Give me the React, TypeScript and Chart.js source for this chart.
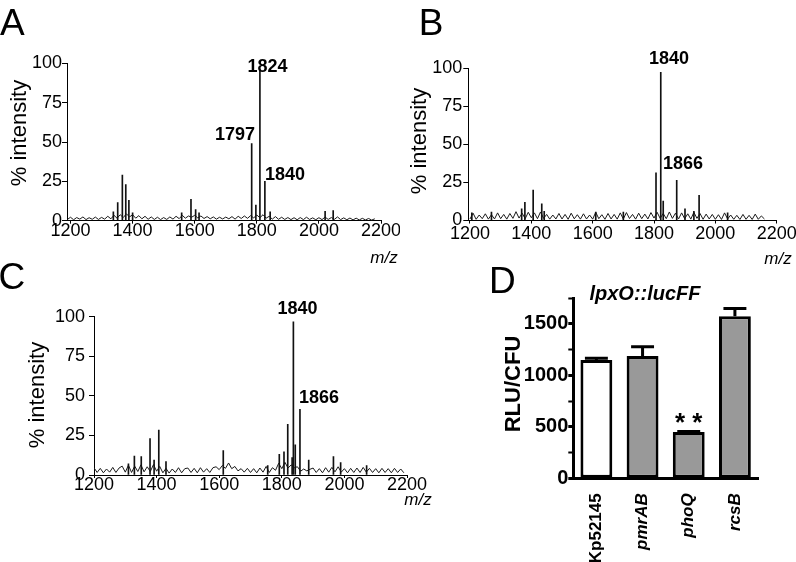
import React, { useEffect, useRef } from 'react';
import { Chart, registerables } from 'chart.js';

Chart.register(...registerables);

const FONT = '"Liberation Sans", Arial, Helvetica, sans-serif';

// ---------- shared x ticks (m/z) ----------
const MZ_TICKS = [1200, 1400, 1600, 1800, 2000, 2200];
const PCT_TICKS_STEP = 25;
const NOISE_STEP = 10;

// ---------- Panel A ----------
const A_NOISE_START = 1190;
const A_NOISE = [
  0.8, 2.2, 0.6, 2.0, 1.0, 2.4, 0.7, 1.9, 0.9, 2.3, 0.8,
  2.1, 1.0, 2.8, 1.2, 3.4, 1.6, 3.8, 2.0, 4.4, 2.4,
  3.8, 1.6, 3.2, 1.2, 2.8, 0.9, 2.4, 0.8, 2.2, 0.7,
  2.0, 0.8, 2.4, 1.0, 2.8, 1.3, 3.4, 1.6, 3.0, 2.2,
  3.4, 1.8, 3.0, 1.4, 2.6, 1.2, 2.4, 1.0, 2.2, 1.1,
  2.3, 1.2, 2.6, 1.0, 2.8, 1.4, 3.0, 1.5, 3.2, 1.8,
  3.6, 1.9, 3.8, 1.6, 2.8, 1.0, 2.6, 0.9, 2.2, 0.8,
  2.0, 0.7, 1.9, 0.6, 2.0, 0.7, 2.2, 0.8, 1.8, 0.6,
  1.9, 0.7, 2.3, 0.8, 2.0, 0.9, 2.4, 0.7, 1.8, 0.6,
  1.7, 0.5, 1.6, 0.5, 1.5, 0.5, 1.4, 0.4, 1.2,
];
const A_PEAK_MZ = [1338, 1352, 1367, 1378, 1388, 1400, 1558, 1588, 1603, 1614, 1783.5, 1797, 1810, 1826, 1843, 2020, 2046];
const A_PEAK_PCT = [5.7, 11.5, 29, 23, 13, 5, 5, 13.6, 7, 5, 49, 10, 95, 25, 5.7, 6, 6.4];
const A_PEAK_LABELS = ['1824', '1797', '1840'];

// ---------- Panel B ----------
const B_NOISE_START = 1200;
const B_NOISE = [
  1.0, 4.8, 0.8, 3.6, 1.2, 4.4, 0.9, 3.8, 1.0, 5.0,
  1.2, 4.0, 0.9, 4.6, 1.4, 5.8, 1.6, 4.8, 1.2, 5.4,
  1.8, 5.0, 1.2, 5.6, 1.4, 4.0, 0.9, 3.6, 1.0, 4.6,
  1.0, 4.0, 0.8, 4.8, 1.1, 3.8, 0.9, 4.4, 1.0, 3.6,
  0.9, 5.4, 1.2, 3.8, 0.8, 4.6, 1.0, 4.0, 0.9, 5.0,
  1.0, 5.2, 1.3, 4.0, 0.9, 4.8, 1.2, 4.2, 1.0, 5.2,
  1.6, 5.4, 1.4, 4.6, 1.2, 5.6, 1.4, 4.8, 1.0, 5.0,
  1.2, 4.4, 0.9, 5.4, 1.4, 4.6, 0.8, 4.2, 1.0, 4.0,
  0.8, 3.8, 0.7, 5.0, 1.0, 3.6, 0.8, 3.4, 0.7, 4.0,
  0.8, 3.4, 0.7, 4.2, 0.8, 3.0, 1.0,
];
const B_PEAK_MZ = [1206, 1270, 1368.5, 1379, 1406, 1434, 1442, 1610, 1700, 1806.5, 1822, 1830, 1874, 1901, 1930, 1947, 2040];
const B_PEAK_PCT = [5, 5.5, 7.7, 12, 20, 11, 6, 5.5, 5.5, 31.4, 97.4, 12.7, 26.4, 7.7, 6, 16.5, 5];
const B_PEAK_LABELS = ['1840', '1866'];

// ---------- Panel C ----------
const C_NOISE_START = 1200;
const C_NOISE = [
  4.6, 1.6, 4.2, 1.4, 3.8, 1.8, 4.8, 1.6, 4.4, 5.6,
  1.8, 6.2, 1.6, 5.6, 2.2, 6.4, 2.0, 5.2, 2.2, 6.6,
  2.4, 5.4, 1.4, 4.2, 1.2, 3.8, 1.6, 4.6, 1.4, 4.0,
  4.4, 1.6, 4.2, 1.4, 4.6, 1.8, 4.0, 1.6, 4.6, 5.2,
  3.4, 6.0, 4.2, 7.6, 4.0, 5.4, 2.6, 4.0, 1.8, 4.2,
  1.6, 4.0, 1.4, 4.4, 1.8, 5.4, 1.6, 4.6, 3.0, 7.4,
  4.0, 8.0, 4.4, 6.4, 4.6, 5.2, 2.4, 3.8, 2.6, 3.6,
  4.4, 1.6, 4.0, 1.4, 4.6, 1.8, 4.8, 2.0, 5.2, 1.8,
  4.0, 1.4, 4.2, 1.6, 4.4, 1.6, 4.8, 1.8, 4.2, 1.6,
  4.0, 1.4, 4.2, 1.6, 4.0, 1.4, 4.2, 1.6, 3.8, 1.4,
];
const C_PEAK_MZ = [1310, 1329, 1351, 1379, 1392, 1407, 1430, 1613, 1755, 1792, 1807, 1819, 1833, 1837, 1843, 1858, 1886, 1965, 1988, 2071];
const C_PEAK_PCT = [7, 12, 11.6, 23, 9.5, 28.4, 8.4, 15.4, 6, 13, 14.7, 32, 11, 96.8, 19, 41.5, 9.5, 11.6, 7.8, 6];
const C_PEAK_LABELS = ['1840', '1866'];

// ---------- Panel D ----------
const D_CATEGORIES = ['Kp52145', 'pmrAB', 'phoQ', 'rcsB'];
const D_VALUES = [1148, 1188, 449, 1572];
const D_ERRORS = [18, 90, 6, 75];
const D_SIGNIF = ['', '', '* *', ''];
const D_TITLE = 'lpxO::lucFF';
const D_YMAX = 1750;
const D_MINOR_STEP = 250;
const D_MAJOR_STEP = 500;
const D_FILLS = ['#ffffff', '#999999', '#999999', '#999999'];

type TextItem = {
  text: string;
  x: number;
  y: number;
  font: string;
  align?: CanvasTextAlign;
  baseline?: CanvasTextBaseline;
  rotate?: number;
};

function textPlugin(items: TextItem[]) {
  return {
    id: 'texts',
    afterDraw(chart: any) {
      const ctx = chart.ctx as CanvasRenderingContext2D;
      for (const it of items) {
        ctx.save();
        ctx.fillStyle = '#000';
        ctx.translate(it.x, it.y);
        if (it.rotate) ctx.rotate(it.rotate);
        ctx.font = it.font;
        ctx.textAlign = it.align ?? 'center';
        ctx.textBaseline = it.baseline ?? 'middle';
        ctx.fillText(it.text, 0, 0);
        ctx.restore();
      }
    },
  };
}

type SpecCfg = {
  noiseStart: number;
  noise: number[];
  peakMz: number[];
  peakPct: number[];
  xMin: number;
  padding: { left: number; top: number; right: number; bottom: number };
  yWidth: number;
  xHeight: number;
  yTickPad: number;
  xTickPad: number;
  texts: TextItem[];
};

function spectrumChart(canvas: HTMLCanvasElement, c: SpecCfg) {
  const noisePts = c.noise.map((v, i) => ({ x: c.noiseStart + i * NOISE_STEP, y: v }));
  const peakPts = c.peakMz.map((m, i) => ({ x: m, y: c.peakPct[i] }));
  return new Chart(canvas, {
    type: 'bar',
    data: {
      datasets: [
        {
          type: 'bar',
          data: peakPts as any,
          backgroundColor: '#111',
          barThickness: 1,
          order: 1,
        } as any,
        {
          type: 'line',
          data: noisePts as any,
          borderColor: '#1a1a1a',
          borderWidth: 1,
          pointRadius: 0,
          tension: 0,
          order: 2,
        } as any,
      ],
    },
    options: {
      animation: false,
      responsive: false,
      maintainAspectRatio: false,
      events: [],
      layout: { padding: c.padding, autoPadding: false } as any,
      plugins: { legend: { display: false }, tooltip: { enabled: false } },
      scales: {
        x: {
          type: 'linear',
          offset: false,
          min: c.xMin,
          max: MZ_TICKS[MZ_TICKS.length - 1],
          afterBuildTicks: (s: any) => {
            s.ticks = MZ_TICKS.map((v) => ({ value: v }));
          },
          afterFit: (s: any) => {
            s.height = c.xHeight;
            s.paddingLeft = 0;
            s.paddingRight = 0;
          },
          ticks: {
            autoSkip: false,
            maxRotation: 0,
            padding: c.xTickPad,
            color: '#000',
            font: { family: FONT, size: 18, lineHeight: 1 },
            callback: (v: any) => String(v),
          },
          grid: { offset: false, drawOnChartArea: false, drawTicks: true, tickLength: 3, color: '#000' },
          border: { display: true, color: '#000', width: 1 },
        },
        y: {
          min: 0,
          max: 100,
          afterFit: (s: any) => {
            s.width = c.yWidth;
            s.paddingTop = 0;
            s.paddingBottom = 0;
          },
          ticks: {
            stepSize: PCT_TICKS_STEP,
            padding: c.yTickPad,
            color: '#000',
            font: { family: FONT, size: 18, lineHeight: 1 },
            callback: (v: any) => String(v),
          },
          grid: { drawOnChartArea: false, drawTicks: true, tickLength: 5, color: '#000' },
          border: { display: true, color: '#000', width: 1 },
        },
      },
    } as any,
    plugins: [textPlugin(c.texts)],
  });
}

const errorBarPlugin = {
  id: 'errorBars',
  afterDatasetsDraw(chart: any) {
    const meta = chart.getDatasetMeta(0);
    const y = chart.scales.y;
    const ctx = chart.ctx as CanvasRenderingContext2D;
    ctx.save();
    ctx.strokeStyle = '#000';
    ctx.lineWidth = 3;
    meta.data.forEach((bar: any, i: number) => {
      const top = y.getPixelForValue(D_VALUES[i] + D_ERRORS[i]);
      const half = bar.width * 0.36;
      ctx.beginPath();
      ctx.moveTo(bar.x, bar.y);
      ctx.lineTo(bar.x, top);
      ctx.moveTo(bar.x - half, top);
      ctx.lineTo(bar.x + half, top);
      ctx.stroke();
      if (D_SIGNIF[i]) {
        ctx.fillStyle = '#000';
        ctx.font = `bold 26px ${FONT}`;
        ctx.textAlign = 'center';
        ctx.textBaseline = 'middle';
        ctx.fillText(D_SIGNIF[i], bar.x, top - 8);
      }
    });
    ctx.restore();
  },
};

const F = (s: string) => `${s} ${FONT}`;

export default function App() {
  const aRef = useRef<HTMLCanvasElement>(null);
  const bRef = useRef<HTMLCanvasElement>(null);
  const cRef = useRef<HTMLCanvasElement>(null);
  const dRef = useRef<HTMLCanvasElement>(null);

  useEffect(() => {
    const charts: Chart[] = [];
    charts.push(
      spectrumChart(aRef.current!, {
        noiseStart: A_NOISE_START,
        noise: A_NOISE,
        peakMz: A_PEAK_MZ,
        peakPct: A_PEAK_PCT,
        xMin: 1188.7,
        padding: { left: 0, top: 63.3, right: 19, bottom: 0 },
        yWidth: 67,
        xHeight: 49.3,
        yTickPad: 0,
        xTickPad: -2,
        texts: [
          { text: 'A', x: 0, y: 35, font: F('37px'), align: 'left', baseline: 'alphabetic' },
          { text: '% intensity', x: 20, y: 133, font: F('22px'), rotate: -Math.PI / 2 },
          { text: A_PEAK_LABELS[0], x: 267.5, y: 67, font: F('bold 18px') },
          { text: A_PEAK_LABELS[1], x: 235, y: 135, font: F('bold 18px') },
          { text: A_PEAK_LABELS[2], x: 285, y: 175, font: F('bold 18px') },
          { text: 'm/z', x: 384, y: 258, font: F('italic 17px') },
        ],
      })
    );
    charts.push(
      spectrumChart(bRef.current!, {
        noiseStart: B_NOISE_START,
        noise: B_NOISE,
        peakMz: B_PEAK_MZ,
        peakPct: B_PEAK_PCT,
        xMin: 1194.5,
        padding: { left: 0, top: 68.3, right: 19.3, bottom: 0 },
        yWidth: 68.3,
        xHeight: 49.5,
        yTickPad: 1,
        xTickPad: 1.5,
        texts: [
          { text: 'B', x: 18.7, y: 35, font: F('37px'), align: 'left', baseline: 'alphabetic' },
          { text: '% intensity', x: 20, y: 141, font: F('22px'), rotate: -Math.PI / 2 },
          { text: B_PEAK_LABELS[0], x: 269, y: 59, font: F('bold 18px') },
          { text: B_PEAK_LABELS[1], x: 283, y: 164, font: F('bold 18px') },
          { text: 'm/z', x: 378, y: 259, font: F('italic 17px') },
        ],
      })
    );
    charts.push(
      spectrumChart(cRef.current!, {
        noiseStart: C_NOISE_START,
        noise: C_NOISE,
        peakMz: C_PEAK_MZ,
        peakPct: C_PEAK_PCT,
        xMin: 1200,
        padding: { left: 0, top: 61.7, right: 33, bottom: 0 },
        yWidth: 94,
        xHeight: 87,
        yTickPad: 4,
        xTickPad: -1.5,
        texts: [
          { text: 'C', x: -1.5, y: 34, font: F('37px'), align: 'left', baseline: 'alphabetic' },
          { text: '% intensity', x: 37.5, y: 140, font: F('22px'), rotate: -Math.PI / 2 },
          { text: C_PEAK_LABELS[0], x: 297.5, y: 54.5, font: F('bold 18px') },
          { text: C_PEAK_LABELS[1], x: 319, y: 143.5, font: F('bold 18px') },
          { text: 'm/z', x: 418, y: 245.5, font: F('italic 17px') },
        ],
      })
    );

    charts.push(
      new Chart(dRef.current!, {
        type: 'bar',
        data: {
          labels: D_CATEGORIES,
          datasets: [
            {
              data: D_VALUES,
              backgroundColor: D_FILLS,
              borderColor: '#000',
              borderWidth: 3,
              borderSkipped: false,
              categoryPercentage: 1,
              barPercentage: 0.69,
            } as any,
          ],
        },
        options: {
          animation: false,
          responsive: false,
          maintainAspectRatio: false,
          events: [],
          layout: { padding: { left: 0, top: 43, right: 38, bottom: 0 }, autoPadding: false } as any,
          plugins: { legend: { display: false }, tooltip: { enabled: false } },
          scales: {
            x: {
              afterFit: (s: any) => {
                s.height = 83.7;
                s.paddingLeft = 0;
                s.paddingRight = 0;
              },
              grid: { display: false },
              border: { display: true, color: '#000', width: 3 },
              ticks: {
                autoSkip: false,
                minRotation: 90,
                maxRotation: 90,
                padding: 7,
                color: '#000',
                font: (ctx: any) => ({
                  family: FONT,
                  size: 17,
                  weight: 'bold',
                  style: ctx.index === 0 ? 'normal' : 'italic',
                }),
              },
            },
            y: {
              min: 0,
              max: D_YMAX,
              afterFit: (s: any) => {
                s.width = 133.3;
                s.paddingTop = 0;
                s.paddingBottom = 0;
              },
              ticks: {
                stepSize: D_MINOR_STEP,
                padding: 0,
                color: '#000',
                font: { family: FONT, size: 20, weight: 'bold', lineHeight: 1 },
                callback: (v: any) => (Number(v) % D_MAJOR_STEP === 0 ? String(v) : ''),
              },
              grid: {
                drawOnChartArea: false,
                drawTicks: true,
                tickLength: 5,
                color: '#000',
                tickWidth: (ctx: any) => (ctx.tick && ctx.tick.value % D_MAJOR_STEP === 0 ? 3 : 2),
              },
              border: { display: true, color: '#000', width: 3 },
            },
          },
        } as any,
        plugins: [
          errorBarPlugin,
          textPlugin([
            { text: 'D', x: 49, y: 38, font: F('37px'), align: 'left', baseline: 'alphabetic' },
            { text: D_TITLE, x: 205, y: 39, font: F('italic bold 20px') },
            { text: 'RLU/CFU', x: 73.5, y: 129, font: F('bold 22px'), rotate: -Math.PI / 2 },
          ]),
        ],
      })
    );

    return () => charts.forEach((ch) => ch.destroy());
  }, []);

  const cv = (left: number, top: number, w: number, h: number): React.CSSProperties => ({
    position: 'absolute',
    left,
    top,
    width: w,
    height: h,
  });

  return (
    <div style={{ position: 'absolute', left: 0, top: 0, width: 796, height: 562, background: '#fff', overflow: 'hidden' }}>
      <canvas ref={aRef} width={400} height={270} style={cv(0, 0, 400, 270)} />
      <canvas ref={bRef} width={396} height={270} style={cv(400, 0, 396, 270)} />
      <canvas ref={cRef} width={440} height={307} style={cv(0, 255, 440, 307)} />
      <canvas ref={dRef} width={356} height={307} style={cv(440, 255, 356, 307)} />
    </div>
  );
}
